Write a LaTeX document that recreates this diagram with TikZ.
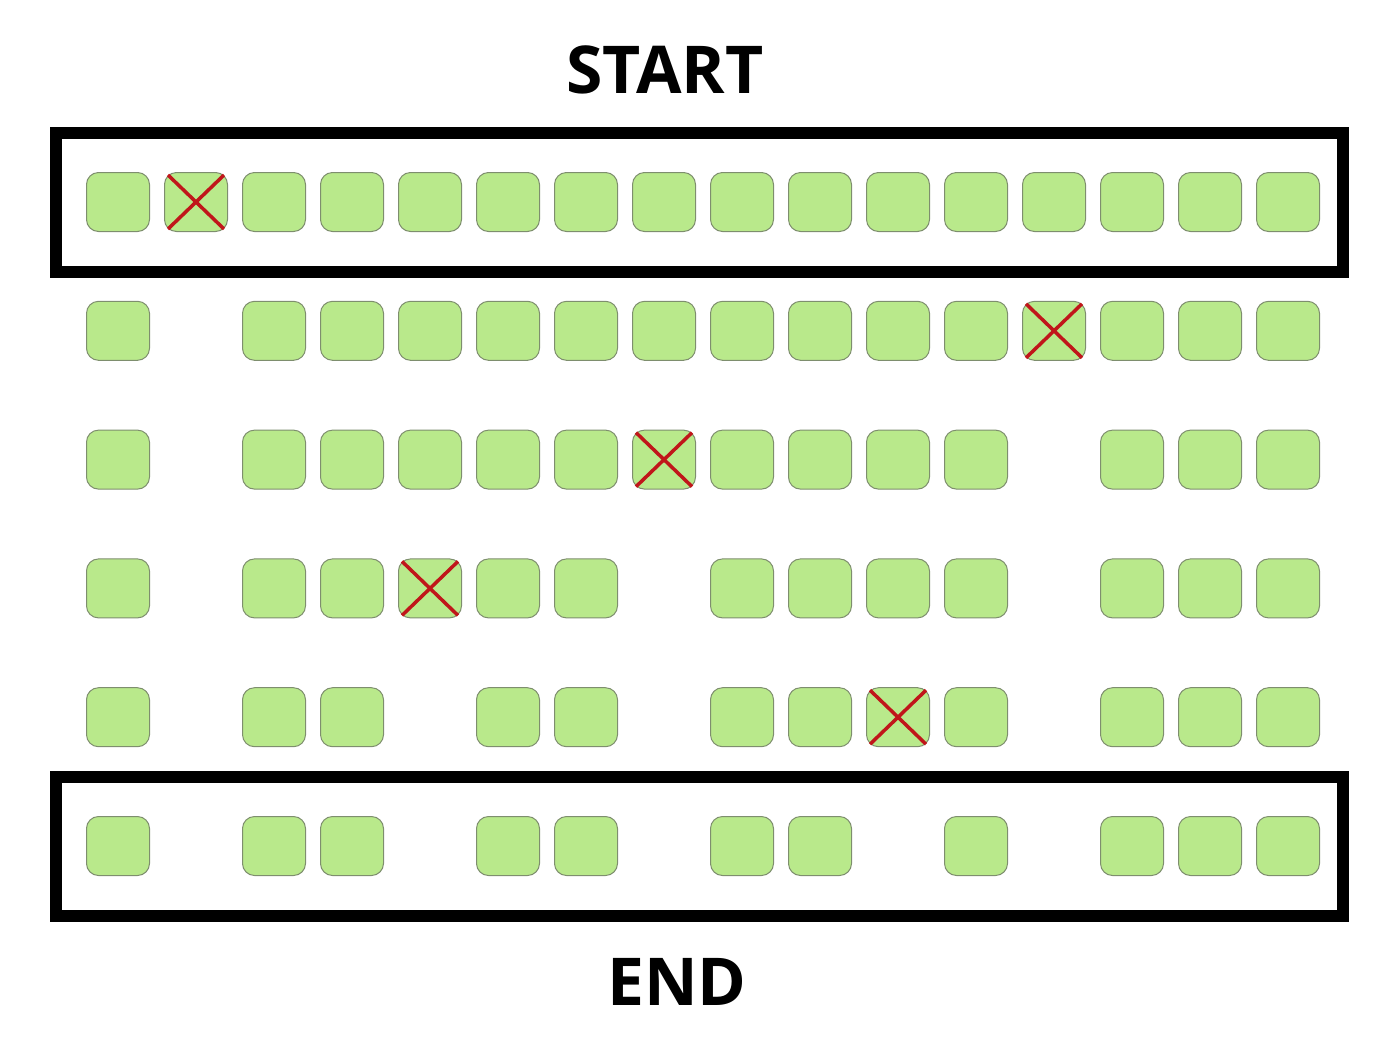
\documentclass[tikz,border=0pt]{standalone}
\usepackage{fontspec}
\setmainfont{Open Sans}
\begin{document}
\begin{tikzpicture}[x=1pt,y=-1pt,
  seat/.style={draw=seatedge, line width=1pt, fill=seatgreen, rounded corners=12pt, minimum width=63pt, minimum height=59pt, inner sep=0pt},
  frame/.style={draw=black, line width=12pt},
  crossline/.style={draw=crossred, line width=3.5pt},
  title/.style={font=\bfseries\fontsize{66}{70}\selectfont, inner sep=0pt}]
\definecolor{seatgreen}{HTML}{B9E98B}
\definecolor{seatedge}{HTML}{7E8E6E}
\definecolor{crossred}{HTML}{C0161A}
\useasboundingbox (0,0) rectangle (1400,1050);
\node[title] (start) at (665,70) {START};
\node[title] (end) at (677,982) {END};
\draw[frame] (56,133) rectangle (1343,272);
\draw[frame] (56,777) rectangle (1343,916);
% rows: row number / list of columns
\foreach \r/\cols in {1/{1,2,3,4,5,6,7,8,9,10,11,12,13,14,15,16},
                      2/{1,3,4,5,6,7,8,9,10,11,12,13,14,15,16},
                      3/{1,3,4,5,6,7,8,9,10,11,12,14,15,16},
                      4/{1,3,4,5,6,7,9,10,11,12,14,15,16},
                      5/{1,3,4,6,7,9,10,11,12,14,15,16},
                      6/{1,3,4,6,7,9,10,12,14,15,16}} {
  \foreach \c in \cols {
    \node[seat] (s-\r-\c) at ({40+78*\c},{202+128.8*(\r-1)}) {};
  }
}
\foreach \r/\c in {1/2,2/13,3/8,4/5,5/11} {
  \draw[crossline] ([shift={(4pt,-3pt)}]s-\r-\c.north west) -- ([shift={(-4pt,3pt)}]s-\r-\c.south east);
  \draw[crossline] ([shift={(-4pt,-3pt)}]s-\r-\c.north east) -- ([shift={(4pt,3pt)}]s-\r-\c.south west);
}
\end{tikzpicture}
\end{document}
